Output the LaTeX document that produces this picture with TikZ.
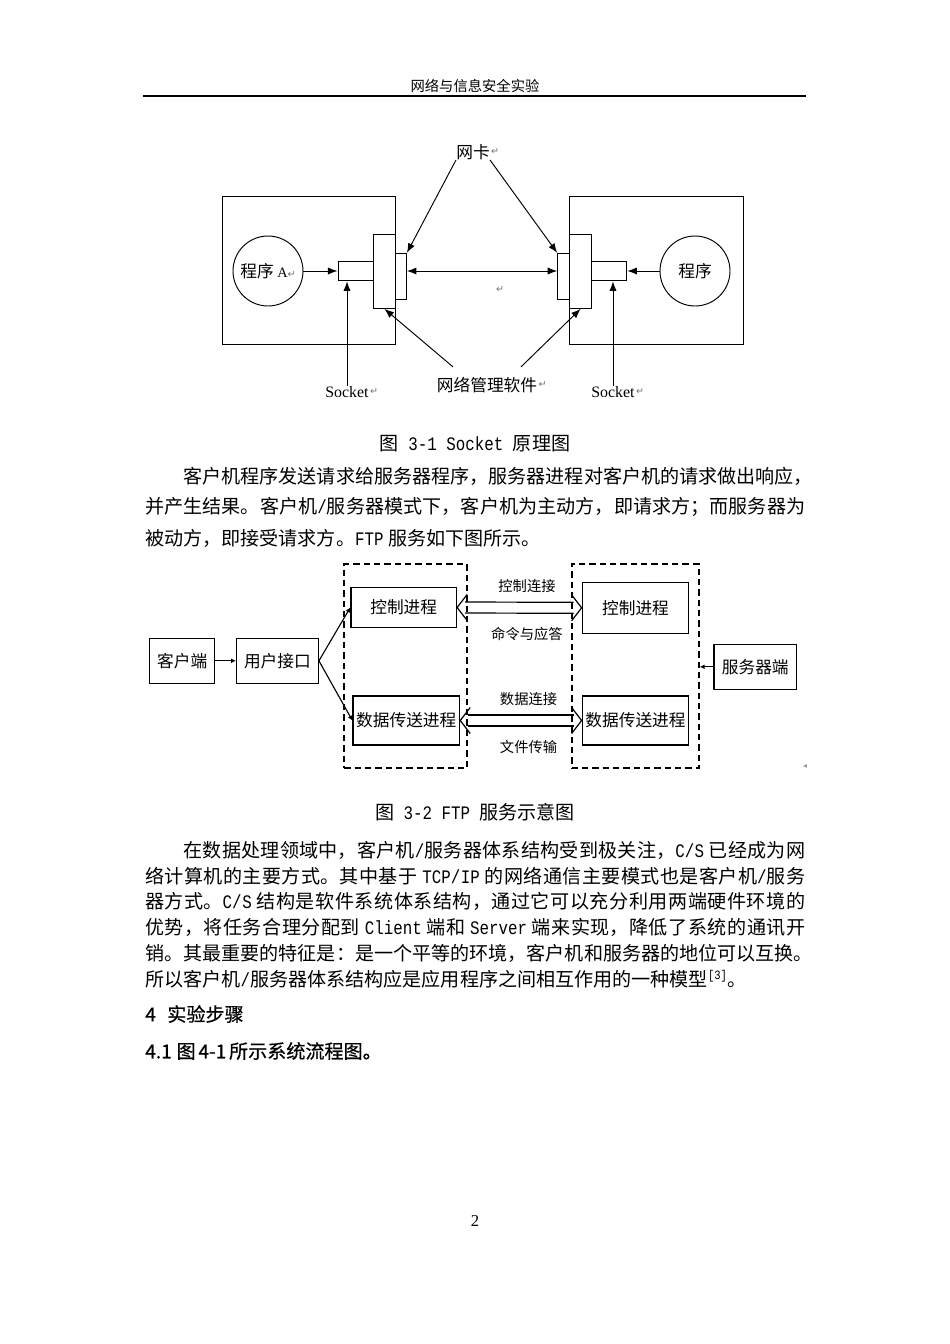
\documentclass[tikz,border=0pt]{standalone}
\usepackage{fontspec}
\setmainfont{Noto Sans CJK SC}
\newfontfamily\hei{Noto Sans CJK SC}[FakeBold=0.6]
\newfontfamily\lat{Liberation Mono}[FakeStretch=0.83]
\newfontfamily\rmn{Liberation Serif}
\newfontfamily\symfont{DejaVu Sans}
\usetikzlibrary{arrows.meta, positioning, calc}
\XeTeXlinebreaklocale "zh"
\XeTeXlinebreakskip=0pt plus 2pt

\newdimen\px \px=0.022105cm
\newcommand\retmark{{\symfont\fontsize{6}{6}\selectfont\color{black!55}↵}}
\newcommand\cjgap{\hskip 0.25em\relax}
% justified line / overfull line of body text
\newcommand\jl[1]{\parbox{660\px}{\parfillskip=0pt\tolerance=9999\relax #1}}
\newcommand\ol[1]{\hbox to 660\px{#1\hss}}

\begin{document}
\begin{tikzpicture}[x=0.022105cm, y=-0.022105cm,
  hostbox/.style={draw, line width=0.6pt, inner sep=0pt},
  prog/.style={draw, circle, line width=0.6pt, inner sep=0pt, minimum size=70\px, font=\fontsize{10.5}{12}\selectfont},
  part/.style={draw, line width=0.6pt, inner sep=0pt},
  lbl/.style={font=\fontsize{10.5}{12}\selectfont, inner sep=0pt},
  arr/.style={-{Latex[length=6pt,width=4.5pt]}, line width=0.6pt},
  dblarr/.style={{Latex[length=6pt,width=4.5pt]}-{Latex[length=6pt,width=4.5pt]}, line width=0.6pt},
  procbox/.style={draw, line width=0.8pt, inner sep=0pt, font=\fontsize{10.5}{12}\selectfont},
  group/.style={draw, line width=1.4pt, dash pattern=on 4pt off 2.5pt},
  tip/.style={-{Latex[length=3pt,width=3pt]}, line width=0.7pt},
  pipeline/.style={line width=0.75pt},
  linklbl/.style={font=\fontsize{9}{10}\selectfont, inner sep=0pt},
  body/.style={anchor=west, inner sep=0pt, font=\fontsize{12}{14}\selectfont}]

\fill[white] (0,0) rectangle (950,1344);
\useasboundingbox (0,0) rectangle (950,1344);

% page head
\node[font=\fontsize{9}{10}\selectfont, inner sep=0pt] (hdr) at (475,86) {网络与信息安全实验};
\draw[line width=1pt] (143,96) -- (806,96);

% socket figure
\node[hostbox, minimum width=173\px, minimum height=148\px] (lhost) at (309.1,270.9) {};
\node[hostbox, minimum width=173.5\px, minimum height=148\px] (rhost) at (656.3,270.9) {};
\node[prog] (lprog) at (268,271) {程序{\rmn\fontsize{9}{9}\selectfont\ A}\retmark};
\node[prog] (rprog) at (695,271) {程序};
\node[part, minimum width=35\px, minimum height=19.7\px] (lsock) at (355.5,271) {};
\node[part, minimum width=22.7\px, minimum height=74.3\px] (lmgr) at (384.4,271.2) {};
\node[part, minimum width=10.7\px, minimum height=45.7\px] (lnic) at (401.1,276.2) {};
\node[part, minimum width=11.8\px, minimum height=45.7\px] (rnic) at (563.6,276.2) {};
\node[part, minimum width=22.2\px, minimum height=74.3\px] (rmgr) at (580.6,271.2) {};
\node[part, minimum width=35.1\px, minimum height=19.7\px] (rsock) at (609.3,271) {};

\node[lbl, label={[inner sep=0.5pt]east:\retmark}] (nic) at (473,152) {网卡};
\node[lbl, label={[inner sep=0.5pt]east:\retmark}] (mgr) at (487,385) {网络管理软件};
\node[lbl, font=\rmn\fontsize{10}{12}\selectfont, label={[inner sep=0.5pt]east:\retmark}] (lsl) at (347,391.7) {Socket};
\node[lbl, font=\rmn\fontsize{10}{12}\selectfont, label={[inner sep=0.5pt]east:\retmark}] (rsl) at (613,391.7) {Socket};
\node[inner sep=0pt] (mk1) at (500,290) {\retmark};

\draw[arr] (nic.south west) -- (lnic.north east);
\draw[arr] (nic.south east) -- (rnic.north west);
\draw[arr] (lprog) -- (lsock);
\draw[arr] (rprog) -- (rsock);
\draw[dblarr] (lnic.east |- lsock) -- (rnic.west |- lsock);
\draw[arr] (lsl) -- (lsl |- lsock.south);
\draw[arr] (rsl) -- (rsl |- rsock.south);
\draw[arr] ($(mgr.north)+(-34,-10)$) -- (lmgr.south);
\draw[arr] ($(mgr.north)+(34,-10)$) -- (rmgr.south);

\node[body, anchor=center] (cap1) at (475,444) {图{\lat\ 3-1 Socket\ }原理图};

\node[body] (p1a) at (145,476) {\ol{\hspace{2em}客户机程序发送请求给服务器程序，服务器进程对客户机的请求做出响应，}};
\node[body] (p1b) at (145,507) {\jl{并产生结果。客户机{\lat/}服务器模式下，客户机为主动方，即请求方；而服务器为}};
\node[body] (p1c) at (145,538) {被动方，即接受请求方。{\lat FTP}\cjgap 服务如下图所示。};

% ftp figure
\node[group, minimum width=122.7\px, minimum height=204\px] (lgrp) at (405.7,666.3) {};
\node[group, minimum width=127\px, minimum height=204\px] (rgrp) at (635.2,666.3) {};
\node[procbox, minimum width=65.2\px, minimum height=45\px] (client) at (182.2,660.8) {客户端};
\node[procbox, minimum width=81.8\px, minimum height=45\px] (ui) at (277.4,660.8) {用户接口};
\node[procbox, minimum width=105.6\px, minimum height=40.4\px] (lctl) at (403.7,607.5) {控制进程};
\node[procbox, minimum width=106.6\px, minimum height=49\px] (ldata) at (406.3,720.5) {数据传送进程};
\node[procbox, minimum width=106.5\px, minimum height=51\px] (rctl) at (635.5,607.8) {控制进程};
\node[procbox, minimum width=106.5\px, minimum height=49\px] (rdata) at (635.5,720.5) {数据传送进程};
\node[procbox, minimum width=82.5\px, minimum height=45\px] (server) at (755.3,666.8) {服务器端};
\node[inner sep=0pt] (mk2) at (805,766) {{\symfont\fontsize{5}{5}\selectfont\color{black!40}◂}};

\draw[tip] (client) -- (ui);
\draw[tip] (ui.east) -- (lctl.west);
\draw[tip] (ui.east) -- (ldata.west);
\draw[tip] (server.west) -- (server.west -| rgrp.east);

% hollow two-way links
\foreach \a/\b in {lctl/rctl, ldata/rdata} {
  \draw[pipeline] ($(\a.east)+(10,-13)$) -- (\a.east) -- ($(\a.east)+(10,13)$);
  \draw[pipeline] ($(\b.west)+(-10,-13)$) -- (\b.west) -- ($(\b.west)+(-10,13)$);
  \draw[pipeline] ($(\a.east)+(8,-5.5)$) -- ($(\b.west)+(-8,-5.5)$);
  \draw[pipeline] ($(\a.east)+(8,5.5)$) -- ($(\b.west)+(-8,5.5)$);
}
\path (lctl.east) -- node[linklbl, above=9pt, xshift=4.8pt] (c1) {控制连接} node[linklbl, below=12pt, xshift=4.8pt] (c2) {命令与应答} (rctl.west);
\path (ldata.east) -- node[linklbl, above=9pt, xshift=4.8pt] (d1) {数据连接} node[linklbl, below=12pt, xshift=4.8pt] (d2) {文件传输} (rdata.west);

\node[body, anchor=center] (cap2) at (475,812) {图{\lat\ 3-2 FTP\ }服务示意图};

\node[body] (p2a) at (145,850.5) {\jl{\hspace*{2em}在数据处理领域中，客户机{\lat/}服务器体系结构受到极关注，{\lat C/S}\cjgap 已经成为网}};
\node[body] (p2b) at (145,876) {\jl{络计算机的主要方式。其中基于\cjgap{\lat TCP/IP}\cjgap 的网络通信主要模式也是客户机{\lat/}服务}};
\node[body] (p2c) at (145,901.5) {\jl{器方式。{\lat C/S}\cjgap 结构是软件系统体系结构，通过它可以充分利用两端硬件环境的}};
\node[body] (p2d) at (145,927) {\jl{优势，将任务合理分配到\cjgap{\lat Client}\cjgap 端和\cjgap{\lat Server}\cjgap 端来实现，降低了系统的通讯开}};
\node[body] (p2e) at (145,953) {\ol{销。其最重要的特征是：是一个平等的环境，客户机和服务器的地位可以互换。}};
\node[body] (p2f) at (145,979.5) {所以客户机{\lat/}服务器体系结构应是应用程序之间相互作用的一种模型\textsuperscript{\lat[3]}。};

\node[body, font=\hei\fontsize{12}{14}\selectfont] (sec) at (145,1014) {4\hspace{0.6em}实验步骤};
\node[body, font=\hei\fontsize{12}{14}\selectfont] (sub) at (145,1051) {4.1\hspace{0.25em}图\hspace{0.15em}4-1\hspace{0.15em}所示系统流程图。};

\node[inner sep=0pt, font=\rmn\fontsize{10.5}{12}\selectfont] (pg) at (475,1221) {2};
\end{tikzpicture}
\end{document}
